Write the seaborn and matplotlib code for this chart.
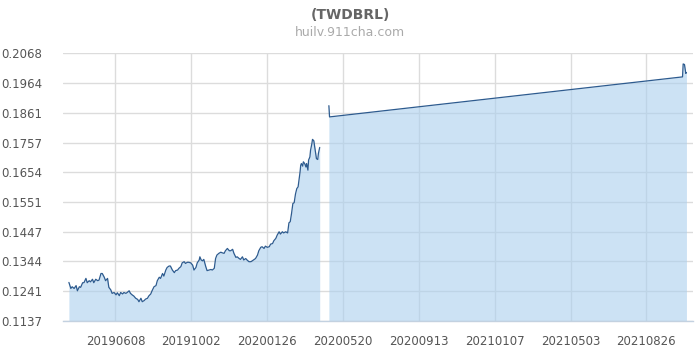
import matplotlib
matplotlib.use("Agg")
import matplotlib.pyplot as plt
import pandas as pd
import seaborn as sns

# ---- data ----
seg1_dates = [
    "2019-03-29", "2019-04-01", "2019-04-03", "2019-04-06", "2019-04-09", "2019-04-11",
    "2019-04-14", "2019-04-16", "2019-04-19", "2019-04-21", "2019-04-24", "2019-04-26",
    "2019-04-29", "2019-05-01", "2019-05-04", "2019-05-06", "2019-05-09", "2019-05-12",
    "2019-05-14", "2019-05-17", "2019-05-19", "2019-05-22", "2019-05-24", "2019-05-27",
    "2019-05-29", "2019-06-01", "2019-06-03", "2019-06-06", "2019-06-09", "2019-06-11",
    "2019-06-14", "2019-06-16", "2019-06-19", "2019-06-21", "2019-06-24", "2019-06-26",
    "2019-06-29", "2019-07-01", "2019-07-04", "2019-07-06", "2019-07-09", "2019-07-12",
    "2019-07-14", "2019-07-17", "2019-07-19", "2019-07-22", "2019-07-24", "2019-07-27",
    "2019-07-29", "2019-08-01", "2019-08-03", "2019-08-06", "2019-08-09", "2019-08-11",
    "2019-08-14", "2019-08-16", "2019-08-19", "2019-08-21", "2019-08-24", "2019-08-26",
    "2019-08-29", "2019-08-31", "2019-09-03", "2019-09-06", "2019-09-08", "2019-09-11",
    "2019-09-13", "2019-09-16", "2019-09-18", "2019-09-21", "2019-09-23", "2019-09-26",
    "2019-09-28", "2019-10-01", "2019-10-04", "2019-10-06", "2019-10-09", "2019-10-11",
    "2019-10-14", "2019-10-15", "2019-10-17", "2019-10-19", "2019-10-21", "2019-10-24",
    "2019-10-26", "2019-10-29", "2019-11-01", "2019-11-03", "2019-11-06", "2019-11-08",
    "2019-11-10", "2019-11-13", "2019-11-16", "2019-11-18", "2019-11-21", "2019-11-23",
    "2019-11-26", "2019-11-29", "2019-12-01", "2019-12-04", "2019-12-06", "2019-12-09",
    "2019-12-11", "2019-12-14", "2019-12-16", "2019-12-19", "2019-12-21", "2019-12-24",
    "2019-12-26", "2019-12-29", "2020-01-01", "2020-01-03", "2020-01-06", "2020-01-08",
    "2020-01-11", "2020-01-13", "2020-01-16", "2020-01-18", "2020-01-21", "2020-01-23",
    "2020-01-26", "2020-01-29", "2020-01-31", "2020-02-03", "2020-02-05", "2020-02-08",
    "2020-02-10", "2020-02-13", "2020-02-15", "2020-02-18", "2020-02-20", "2020-02-23",
    "2020-02-26", "2020-02-28", "2020-03-01", "2020-03-03", "2020-03-05", "2020-03-07",
    "2020-03-09", "2020-03-11", "2020-03-13", "2020-03-15", "2020-03-16", "2020-03-17",
    "2020-03-18", "2020-03-20", "2020-03-21", "2020-03-23", "2020-03-25", "2020-03-26",
    "2020-03-28", "2020-03-29", "2020-03-31", "2020-04-01", "2020-04-03", "2020-04-04",
    "2020-04-06", "2020-04-07", "2020-04-09", "2020-04-10", "2020-04-12", "2020-04-13",
    "2020-04-15",
]
seg1_values = [
    0.1271, 0.1250, 0.1256, 0.1250, 0.1260, 0.1242,
    0.1256, 0.1254, 0.1270, 0.1270, 0.1285, 0.1270,
    0.1277, 0.1273, 0.1282, 0.1270, 0.1282, 0.1277,
    0.1279, 0.1302, 0.1302, 0.1289, 0.1277, 0.1285,
    0.1254, 0.1245, 0.1233, 0.1236, 0.1228, 0.1235,
    0.1225, 0.1236, 0.1231, 0.1236, 0.1233, 0.1236,
    0.1242, 0.1233, 0.1227, 0.1224, 0.1216, 0.1212,
    0.1204, 0.1216, 0.1204, 0.1208, 0.1213, 0.1216,
    0.1224, 0.1231, 0.1242, 0.1256, 0.1260, 0.1277,
    0.1289, 0.1285, 0.1302, 0.1293, 0.1314, 0.1323,
    0.1328, 0.1328, 0.1314, 0.1305, 0.1312, 0.1314,
    0.1320, 0.1326, 0.1339, 0.1343, 0.1337, 0.1341,
    0.1341, 0.1339, 0.1331, 0.1314, 0.1323, 0.1339,
    0.1349, 0.1360, 0.1349, 0.1346, 0.1351, 0.1326,
    0.1312, 0.1314, 0.1316, 0.1314, 0.1320, 0.1354,
    0.1366, 0.1372, 0.1376, 0.1374, 0.1372, 0.1381,
    0.1389, 0.1381, 0.1381, 0.1386, 0.1372, 0.1358,
    0.1360, 0.1354, 0.1351, 0.1360, 0.1349, 0.1354,
    0.1349, 0.1343, 0.1343, 0.1346, 0.1351, 0.1354,
    0.1366, 0.1381, 0.1393, 0.1395, 0.1389, 0.1397,
    0.1393, 0.1395, 0.1404, 0.1406, 0.1416, 0.1424,
    0.1435, 0.1447, 0.1439, 0.1447, 0.1443, 0.1447,
    0.1443, 0.1478, 0.1482, 0.1511, 0.1545, 0.1548,
    0.1578, 0.1597, 0.1603, 0.1638, 0.1655, 0.1678,
    0.1684, 0.1675, 0.1690, 0.1684, 0.1672, 0.1684,
    0.1661, 0.1696, 0.1707, 0.1730, 0.1753, 0.1768,
    0.1763, 0.1748, 0.1719, 0.1701, 0.1698, 0.1719,
    0.1740,
]
seg2_dates = ["2020-04-29", "2020-04-30", "2021-10-21", "2021-10-22",
              "2021-10-24", "2021-10-26", "2021-10-27"]
seg2_values = [0.1885, 0.1846, 0.1985, 0.2030, 0.2028, 0.1997, 0.2000]

y_ticks = [0.1137, 0.1241, 0.1344, 0.1447, 0.1551, 0.1654, 0.1757, 0.1861, 0.1964, 0.2068]
x_tick_labels = ["20190608", "20191002", "20200126", "20200520",
                 "20200913", "20210107", "20210503", "20210826"]
title = "(TWDBRL)"
subtitle = "huilv.911cha.com"

# ---- build table ----
df = pd.concat([
    pd.DataFrame({"date": pd.to_datetime(seg1_dates), "rate": seg1_values, "seg": 1}),
    pd.DataFrame({"date": pd.to_datetime(seg2_dates), "rate": seg2_values, "seg": 2}),
], ignore_index=True)

sns.set_theme(style="white")
plt.rcParams["font.family"] = ["DejaVu Sans"]

LINE = "#2d5b8f"
FILL = "#aacfee"
GRID = "#dcdcdc"

fig = plt.figure(figsize=(7, 3.5), dpi=100)
ax = fig.add_axes([63 / 700, 29 / 350, 630 / 700, 268 / 350])

ymin, ymax = y_ticks[0], y_ticks[-1]
for s, part in df.groupby("seg"):
    ax.fill_between(part["date"], part["rate"], ymin, color=FILL, alpha=0.6,
                    lw=0, zorder=1)
    sns.lineplot(data=part, x="date", y="rate", ax=ax, color=LINE, lw=0.9,
                 estimator=None, sort=True, zorder=3)

ax.set_ylim(ymin, ymax)
ax.set_xlim(pd.Timestamp("2019-03-20"), pd.Timestamp("2021-11-06"))

ax.set_yticks(y_ticks)
ax.set_yticklabels([f"{v:.4f}" for v in y_ticks])
xt = pd.to_datetime(x_tick_labels, format="%Y%m%d")
ax.set_xticks(xt)
ax.set_xticklabels(x_tick_labels)

ax.grid(True, color=GRID, lw=1, zorder=0)
ax.set_axisbelow(True)
for side in ["top", "right", "left"]:
    ax.spines[side].set_visible(False)
ax.spines["bottom"].set_color("#c3d1e0")
ax.spines["bottom"].set_linewidth(1)

ax.tick_params(axis="y", length=0, pad=15, labelsize=8.5, labelcolor="#555555")
ax.tick_params(axis="x", length=7, width=1, color="#c3d1e0", pad=3,
               labelsize=8.5, labelcolor="#555555")
ax.set_xlabel("")
ax.set_ylabel("")

fig.text(0.5, 1 - 15 / 350, title, ha="center", va="center",
         fontsize=10, fontweight="bold", color="#666666")
fig.text(0.5, 1 - 32 / 350, subtitle, ha="center", va="center",
         fontsize=9, color="#aaaaaa")

fig.savefig("out.png", dpi=100)
